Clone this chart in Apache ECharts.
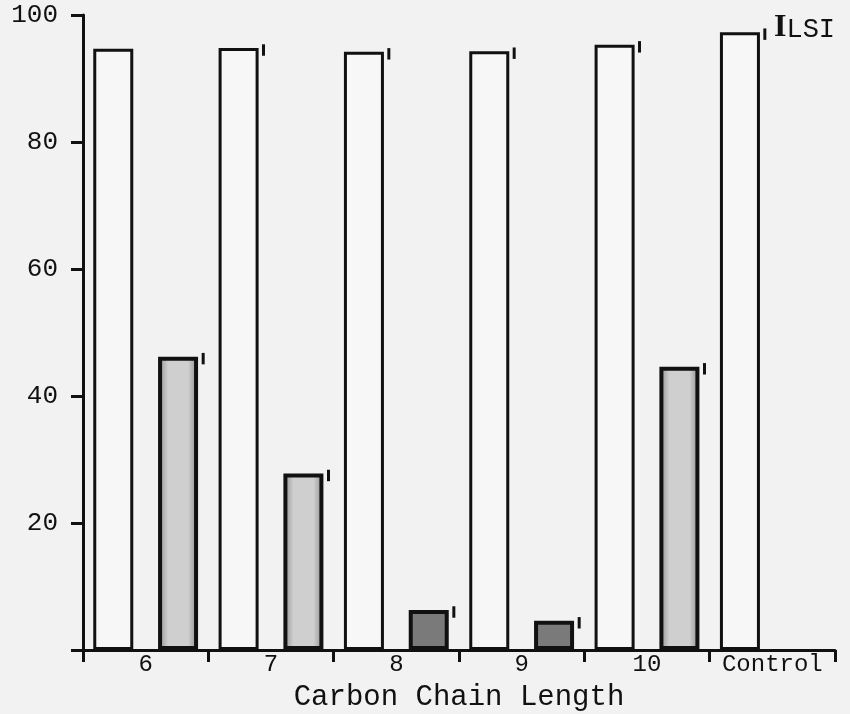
<!DOCTYPE html>
<html>
<head>
<meta charset="utf-8">
<script src="https://cdn.jsdelivr.net/npm/echarts@6/dist/echarts.min.js"></script>
<style>
html,body{margin:0;padding:0;background:#f2f2f2;}
#chart{width:850px;height:714px;}
</style>
</head>
<body>
<div id="chart"></div>
<script>
var categories = ['6', '7', '8', '9', '10', 'Control'];
var whiteValues = [94.7, 94.8, 94.2, 94.3, 95.3, 97.3];
var greyValues = [46.2, 27.8, 6.3, 4.6, 44.6, null];
var whiteErr = [null, 0.9, 0.9, 0.9, 0.9, 0.9];
var greyErr = [0.9, 0.9, 0.9, 0.9, 0.9, null];
var yTicks = [20, 40, 60, 80, 100];
var xTitle = 'Carbon Chain Length';
var cornerLead = 'I';
var cornerRest = 'LSI';

var mono = '"Liberation Mono", "DejaVu Sans Mono", monospace';

function errData(vals, errs) {
  var out = [];
  for (var i = 0; i < vals.length; i++) {
    if (vals[i] != null && errs[i] != null) out.push([i, vals[i], errs[i]]);
  }
  return out;
}
function errRender(offset) {
  return function (params, api) {
    var i = api.value(0), v = api.value(1), e = api.value(2);
    var top = api.coord([i, v + e]);
    var bot = api.coord([i, v - e]);
    var x = top[0] + offset;
    return {
      type: 'line',
      shape: {x1: x, y1: top[1] + 2, x2: x, y2: bot[1] + 2},
      style: {stroke: '#111', lineWidth: 3}
    };
  };
}

var chart = echarts.init(document.getElementById('chart'), null, {renderer: 'canvas'});
chart.setOption({
  backgroundColor: '#f2f2f2',
  animation: false,
  grid: {left: 83, right: 15, top: 15, bottom: 64, containLabel: false, outerBoundsMode: 'none'},
  graphic: [{
    type: 'text', left: 774, top: 12,
    style: {
      text: '{a|' + cornerLead + '}{b|' + cornerRest + '}',
      rich: {
        a: {font: 'bold 32px "Liberation Serif", serif', fill: '#111', color: '#111'},
        b: {font: '27px "Liberation Mono", monospace', fill: '#111', color: '#111', padding: [4, 0, 0, 0]}
      }
    }
  }],
  xAxis: {
    type: 'category',
    data: categories,
    boundaryGap: true,
    axisLine: {lineStyle: {color: '#111', width: 3}},
    axisTick: {show: true, interval: 0, length: 12, lineStyle: {color: '#111', width: 3}},
    axisLabel: {interval: 0, color: '#111', fontFamily: mono, fontSize: 24, margin: 3},
    name: xTitle,
    nameLocation: 'middle',
    nameGap: 33,
    nameTextStyle: {color: '#111', fontFamily: mono, fontSize: 29}
  },
  yAxis: {
    type: 'value',
    min: 0, max: 100, interval: 20,
    axisLine: {show: true, lineStyle: {color: '#111', width: 3}},
    axisTick: {show: true, length: 12, lineStyle: {color: '#111', width: 3}},
    splitLine: {show: false},
    axisLabel: {
      color: '#111', fontFamily: mono, fontSize: 26, margin: 25,
      formatter: function (v) { return yTicks.indexOf(v) >= 0 ? String(v) : ''; }
    }
  },
  series: [
    {
      type: 'bar',
      data: whiteValues,
      barWidth: 40,
      barGap: '62%',
      itemStyle: {color: '#f7f7f7', borderColor: '#111', borderWidth: 3}
    },
    {
      type: 'bar',
      data: greyValues.map(function (v) {
        return v != null && v < 10
          ? {value: v, itemStyle: {color: '#7a7a7a'}}
          : v;
      }),
      barWidth: 40,
      itemStyle: {
        color: new echarts.graphic.LinearGradient(0, 0, 1, 0, [
          {offset: 0, color: '#8c8c8c'},
          {offset: 0.25, color: '#cfcfcf'},
          {offset: 0.75, color: '#cfcfcf'},
          {offset: 1, color: '#8c8c8c'}
        ]),
        borderColor: '#111', borderWidth: 4
      }
    },
    {
      type: 'custom',
      renderItem: errRender(-7.5),
      data: errData(whiteValues, whiteErr),
      z: 5
    },
    {
      type: 'custom',
      renderItem: errRender(57.5),
      data: errData(greyValues, greyErr),
      z: 5
    }
  ]
});
</script>
</body>
</html>
